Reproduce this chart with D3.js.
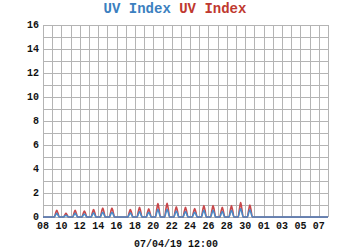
<!DOCTYPE html>
<html>
<head>
<meta charset="utf-8">
<script src="https://cdn.jsdelivr.net/npm/d3@7"></script>
<style>
  body { margin: 0; background: #fff; }
  text { font-family: "Liberation Mono", "DejaVu Sans Mono", monospace; }
</style>
</head>
<body>
<div id="chart"></div>
<script>
// x axis runs in days from 06/08 (day 0) to day 31
var xTickLabels = ['08', '10', '12', '14', '16', '18', '20', '22', '24', '26', '28', '30', '01', '03', '05', '07'];
var yTicks = [0, 2, 4, 6, 8, 10, 12, 14, 16];
var footer = '07/04/19 12:00';

// hours of each day where a reading was sampled
var sampleHours = [5.5, 9, 12, 15, 18.5];
// days that have a UV hump
var humpDays = [1, 2, 3, 4, 5, 6, 7, 9, 10, 11, 12, 13, 14, 15, 16, 17, 18, 19, 20, 21, 22];

// red series (one row per hump day, values at sampleHours)
var redValues = [
  [0, .33, .55, .32, 0], [0, .18, .30, .17, 0], [0, .33, .55, .31, 0],
  [0, .29, .50, .30, 0], [0, .37, .62, .37, 0], [0, .45, .75, .44, 0],
  [0, .45, .75, .45, 0], [0, .37, .62, .38, 0], [0, .48, .80, .47, 0],
  [0, .41, .68, .40, 0], [0, .67, 1.12, .66, 0], [0, .69, 1.15, .68, 0],
  [0, .51, .85, .50, 0], [0, .48, .80, .47, 0], [0, .42, .70, .41, 0],
  [0, .57, .95, .56, 0], [0, .56, .95, .57, 0], [0, .48, .80, .47, 0],
  [0, .57, .95, .56, 0], [0, .72, 1.20, .70, 0], [0, .60, 1.00, .59, 0]
];

// blue series
var blueValues = [
  [0, .18, .30, .17, 0], [0, .09, .15, .08, 0], [0, .18, .30, .17, 0],
  [0, .15, .25, .14, 0], [0, .21, .35, .20, 0], [0, .24, .40, .24, 0],
  [0, .24, .40, .25, 0], [0, .21, .35, .20, 0], [0, .27, .45, .26, 0],
  [0, .24, .40, .24, 0], [0, .39, .65, .38, 0], [0, .39, .65, .39, 0],
  [0, .30, .50, .29, 0], [0, .27, .45, .27, 0], [0, .24, .40, .24, 0],
  [0, .33, .55, .32, 0], [0, .32, .55, .33, 0], [0, .27, .45, .26, 0],
  [0, .33, .55, .32, 0], [0, .42, .70, .41, 0], [0, .36, .60, .35, 0]
];

var width = 350, height = 250;
var margin = { top: 25, right: 22, bottom: 33, left: 43 };

var x = d3.scaleLinear().domain([0, 31]).range([margin.left, width - margin.right]);
var y = d3.scaleLinear().domain([0, 16]).range([height - margin.bottom, margin.top]);

var svg = d3.select('#chart')
  .append('svg')
  .attr('width', width)
  .attr('height', height);

// title
var title = svg.append('text')
  .attr('x', width / 2)
  .attr('y', 13)
  .attr('text-anchor', 'middle')
  .style('font-size', '14px')
  .style('font-weight', 'bold');
title.append('tspan').attr('fill', '#3b7fc0').text('UV Index');
title.append('tspan').attr('fill', '#c0392f').text(' UV Index');

// grid
var grid = svg.append('g').attr('stroke', '#b4b4b4').attr('stroke-width', 1);
grid.selectAll('line.h')
  .data(d3.range(0, 17))
  .enter()
  .append('line')
  .attr('x1', x(0))
  .attr('x2', x(31))
  .attr('y1', function(d) { return Math.round(y(d)) + 0.5; })
  .attr('y2', function(d) { return Math.round(y(d)) + 0.5; });
grid.selectAll('line.v')
  .data(d3.range(0, 32))
  .enter()
  .append('line')
  .attr('y1', y(0))
  .attr('y2', y(16))
  .attr('x1', function(d) { return Math.round(x(d)) + 0.5; })
  .attr('x2', function(d) { return Math.round(x(d)) + 0.5; });

// axes labels
svg.append('g')
  .selectAll('text')
  .data(yTicks)
  .enter()
  .append('text')
  .attr('x', margin.left - 4)
  .attr('y', function(d) { return y(d) + 2.5; })
  .attr('text-anchor', 'end')
  .style('font-size', '10px')
  .style('font-weight', 'bold')
  .attr('fill', '#111')
  .text(function(d) { return d; });

svg.append('g')
  .selectAll('text')
  .data(xTickLabels)
  .enter()
  .append('text')
  .attr('x', function(d, i) { return x(i * 2); })
  .attr('y', 229)
  .attr('text-anchor', 'middle')
  .style('font-size', '10px')
  .style('font-weight', 'bold')
  .attr('fill', '#111')
  .text(function(d) { return d; });

svg.append('text')
  .attr('x', width / 2 + 1)
  .attr('y', 247)
  .attr('text-anchor', 'middle')
  .style('font-size', '10px')
  .style('font-weight', 'bold')
  .attr('fill', '#111')
  .text(footer);

// build a series from the hump rows
function buildSeries(rows) {
  var pts = [{ t: 0, v: 0 }];
  humpDays.forEach(function(day, i) {
    sampleHours.forEach(function(h, j) {
      pts.push({ t: day + h / 24, v: rows[i][j] });
    });
  });
  pts.push({ t: 31, v: 0 });
  return pts;
}

var line = d3.line()
  .x(function(d) { return x(d.t); })
  .y(function(d) { return y(d.v); })
  .curve(d3.curveMonotoneX);

svg.append('path')
  .datum(buildSeries(redValues))
  .attr('fill', 'none')
  .attr('stroke', '#c8474a')
  .attr('stroke-width', 1.6)
  .attr('d', line);

svg.append('path')
  .datum(buildSeries(blueValues))
  .attr('fill', 'none')
  .attr('stroke', '#4a8ac8')
  .attr('stroke-width', 1.6)
  .attr('d', line);
</script>
</body>
</html>
